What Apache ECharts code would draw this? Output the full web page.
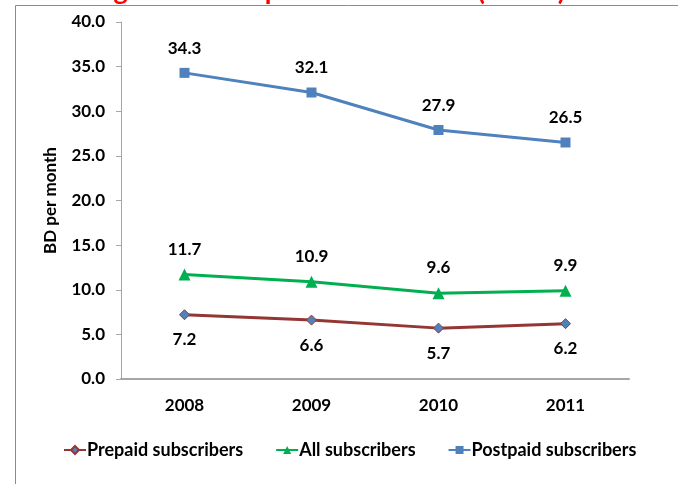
<!DOCTYPE html>
<html>
<head>
<meta charset="utf-8">
<script src="https://cdn.jsdelivr.net/npm/echarts@6/dist/echarts.min.js"></script>
<style>
  html, body { margin: 0; padding: 0; background: #fff; }
  #chart { width: 678px; height: 484px; }
</style>
</head>
<body>
<div id="chart"></div>
<script>
const years = ['2008', '2009', '2010', '2011'];
const prepaid = [7.2, 6.6, 5.7, 6.2];
const allSubs = [11.7, 10.9, 9.6, 9.9];
const postpaid = [34.3, 32.1, 27.9, 26.5];

const FONT = 'Lato';
const chart = echarts.init(document.getElementById('chart'));

const labelStyle = {
  show: true,
  fontFamily: FONT,
  fontWeight: 'bold',
  fontSize: 17,
  color: '#000',
  distance: 11,
  formatter: p => p.value.toFixed(1)
};

const option = {
  animation: false,
  graphic: [
    {
      type: 'rect',
      shape: { x: 15.5, y: 5.5, width: 720, height: 520 },
      style: { fill: 'none', stroke: '#8c8c8c', lineWidth: 1 },
      z: -1
    },
    {
      type: 'text',
      x: 44,
      y: 5,
      style: {
        text: 'Average mobile expenditure of user (ARPU)',
        fontFamily: FONT,
        fontWeight: 'bold',
        fontSize: 27,
        fill: '#ff0000',
        verticalAlign: 'bottom'
      }
    }
  ],
  grid: { left: 121, right: 49, top: 22, bottom: 105 },
  legend: {
    bottom: 20,
    left: 58,
    itemGap: 32,
    itemWidth: 22,
    itemHeight: 10,
    textStyle: { fontFamily: FONT, fontWeight: 'bold', fontSize: 18, color: '#000', padding: [0, 0, 0, -4] },
    data: ['Prepaid subscribers', 'All subscribers', 'Postpaid subscribers']
  },
  xAxis: {
    type: 'category',
    data: years,
    axisLine: { lineStyle: { color: '#a6a6a6', width: 2 } },
    axisTick: { show: false },
    axisLabel: { fontFamily: FONT, fontWeight: 'bold', fontSize: 17, color: '#000', margin: 18 }
  },
  yAxis: {
    type: 'value',
    min: 0,
    max: 40,
    interval: 5,
    name: 'BD per month',
    nameLocation: 'middle',
    nameRotate: 90,
    nameGap: 62,
    nameTextStyle: { fontFamily: FONT, fontWeight: 'bold', fontSize: 17, color: '#000' },
    axisLine: { show: true, lineStyle: { color: '#a6a6a6' } },
    axisTick: { show: true, length: 5, lineStyle: { color: '#a6a6a6' } },
    splitLine: { show: false },
    axisLabel: {
      fontFamily: FONT, fontWeight: 'bold', fontSize: 17, color: '#000', margin: 16,
      formatter: v => v.toFixed(1)
    }
  },
  series: [
    {
      name: 'Prepaid subscribers',
      type: 'line',
      data: prepaid,
      symbol: 'diamond',
      symbolSize: 10,
      lineStyle: { color: '#943634', width: 3 },
      itemStyle: { color: '#4f81bd', borderColor: '#943634', borderWidth: 1 },
      label: Object.assign({}, labelStyle, { position: 'bottom' })
    },
    {
      name: 'All subscribers',
      type: 'line',
      data: allSubs,
      symbol: 'triangle',
      symbolSize: 12,
      lineStyle: { color: '#00b050', width: 3 },
      itemStyle: { color: '#00b050' },
      label: Object.assign({}, labelStyle, { position: 'top' })
    },
    {
      name: 'Postpaid subscribers',
      type: 'line',
      data: postpaid,
      symbol: 'rect',
      symbolSize: 10,
      lineStyle: { color: '#4f81bd', width: 3 },
      itemStyle: { color: '#4f81bd' },
      label: Object.assign({}, labelStyle, { position: 'top' })
    }
  ]
};

chart.setOption(option);
</script>
</body>
</html>
